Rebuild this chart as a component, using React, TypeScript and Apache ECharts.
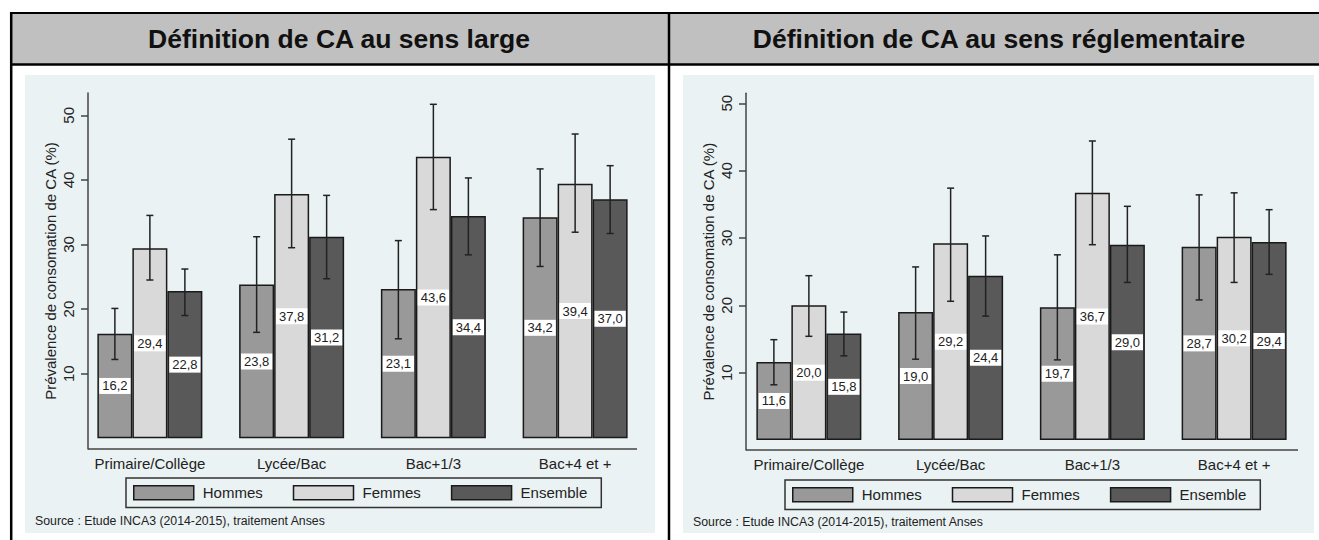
import React, { useEffect, useRef } from "react";
import * as echarts from "echarts";

const categories = ["Primaire/Collège", "Lycée/Bac", "Bac+1/3", "Bac+4 et +"];
const seriesNames = ["Hommes", "Femmes", "Ensemble"];
const yTicks = [10, 20, 30, 40, 50];

// Panel 1 : définition large
const largeHommes = [16.2, 23.8, 23.1, 34.2];
const largeHommesLow = [12.2, 16.4, 15.4, 26.6];
const largeHommesHigh = [20.1, 31.2, 30.6, 41.7];
const largeFemmes = [29.4, 37.8, 43.6, 39.4];
const largeFemmesLow = [24.5, 29.5, 35.4, 31.9];
const largeFemmesHigh = [34.5, 46.3, 51.7, 47.1];
const largeEnsemble = [22.8, 31.2, 34.4, 37.0];
const largeEnsembleLow = [19.0, 24.7, 28.4, 31.7];
const largeEnsembleHigh = [26.2, 37.6, 40.3, 42.2];

// Panel 2 : définition réglementaire
const reglHommes = [11.6, 19.0, 19.7, 28.7];
const reglHommesLow = [8.2, 12.0, 11.9, 20.8];
const reglHommesHigh = [14.9, 25.7, 27.5, 36.4];
const reglFemmes = [20.0, 29.2, 36.7, 30.2];
const reglFemmesLow = [15.4, 20.6, 29.0, 23.4];
const reglFemmesHigh = [24.4, 37.4, 44.4, 36.7];
const reglEnsemble = [15.8, 24.4, 29.0, 29.4];
const reglEnsembleLow = [12.5, 18.4, 23.4, 24.6];
const reglEnsembleHigh = [19.0, 30.3, 34.7, 34.2];

const titles = ["Définition de CA au sens large", "Définition de CA au sens réglementaire"];
const yName = "Prévalence de consomation de CA (%)";
const sourceText = "Source : Etude INCA3 (2014-2015), traitement Anses";

const FONT = "'Liberation Sans', Arial, Helvetica, sans-serif";
const barColors = ["#999999", "#d9d9d9", "#595959"];
const BAR_W = 35;

export default function App() {
  const ref = useRef<HTMLDivElement>(null);

  useEffect(() => {
    if (!ref.current) return;
    const chart = echarts.init(ref.current, null, { renderer: "svg" });

    const panels = [
      {
        vals: [largeHommes, largeFemmes, largeEnsemble],
        lows: [largeHommesLow, largeFemmesLow, largeEnsembleLow],
        highs: [largeHommesHigh, largeFemmesHigh, largeEnsembleHigh],
      },
      {
        vals: [reglHommes, reglFemmes, reglEnsemble],
        lows: [reglHommesLow, reglFemmesLow, reglEnsembleLow],
        highs: [reglHommesHigh, reglFemmesHigh, reglEnsembleHigh],
      },
    ];

    const series: any[] = [];
    panels.forEach((p, pi) => {
      seriesNames.forEach((name, k) => {
        series.push({
          type: "bar",
          name,
          xAxisIndex: pi,
          yAxisIndex: pi,
          data: p.vals[k],
          barWidth: BAR_W,
          barGap: "0%",
          itemStyle: { color: barColors[k], borderColor: "#1a1a1a", borderWidth: 1.5 },
          label: {
            show: true,
            position: "inside",
            formatter: (d: any) => Number(d.value).toFixed(1).replace(".", ","),
            backgroundColor: "#ffffff",
            padding: [2, 3, 1, 3],
            fontSize: 13,
            fontFamily: FONT,
            color: "#222",
          },
          z: 2,
        });
      });
      seriesNames.forEach((name, k) => {
        const off = (k - 1) * BAR_W;
        series.push({
          type: "custom",
          xAxisIndex: pi,
          yAxisIndex: pi,
          silent: true,
          z: 5,
          data: p.lows[k].map((lo, i) => [i, lo, p.highs[k][i]]),
          encode: { x: 0, y: [1, 2] },
          renderItem: (params: any, api: any) => {
            const lo = api.coord([api.value(0), api.value(1)]);
            const hi = api.coord([api.value(0), api.value(2)]);
            const cx = lo[0] + off;
            const cap = 3.5;
            const st = { stroke: "#222", lineWidth: 1.5 };
            return {
              type: "group",
              children: [
                { type: "line", shape: { x1: cx, y1: hi[1], x2: cx, y2: lo[1] }, style: st },
                { type: "line", shape: { x1: cx - cap, y1: hi[1], x2: cx + cap, y2: hi[1] }, style: st },
                { type: "line", shape: { x1: cx - cap, y1: lo[1], x2: cx + cap, y2: lo[1] }, style: st },
              ],
            };
          },
        });
      });
    });

    const axisCol = "#444";
    const mkX = (gi: number) => ({
      gridIndex: gi,
      type: "category",
      data: categories,
      axisLine: { show: false },
      axisTick: { show: false },
      axisLabel: { interval: 0, margin: 7, fontSize: 15, color: "#222", fontFamily: FONT },
    });
    const mkY = (gi: number, min: number, max: number, offset: number) => ({
      gridIndex: gi,
      type: "value",
      min,
      max,
      offset,
      axisLine: { show: true, lineStyle: { color: axisCol, width: 1.5 } },
      axisTick: { show: true, length: 7, customValues: yTicks, lineStyle: { color: axisCol, width: 1.5 } },
      axisLabel: { customValues: yTicks, rotate: 90, margin: 12, fontSize: 15, color: "#222", fontFamily: FONT },
      splitLine: { show: false },
      name: yName,
      nameLocation: "middle",
      nameRotate: 90,
      nameGap: 30,
      nameTextStyle: { fontSize: 15, color: "#222", fontFamily: FONT },
    });

    const mkLegend = (left: number, top: number) => ({
      left,
      top,
      orient: "horizontal",
      data: seriesNames,
      icon: "rect",
      itemWidth: 60,
      itemHeight: 14,
      itemGap: 30,
      padding: [7, 14, 7, 7],
      borderColor: "#333",
      borderWidth: 1.5,
      selectedMode: false,
      itemStyle: { borderColor: "#1a1a1a", borderWidth: 1.5 },
      textStyle: { fontSize: 15, color: "#222", fontFamily: FONT, padding: [0, 0, 0, 4] },
    });

    const panelBg = "#eaf2f3";
    const graphic: any[] = [
      { type: "rect", shape: { x: 25, y: 75, width: 630, height: 458 }, style: { fill: panelBg }, z: -10 },
      { type: "rect", shape: { x: 683, y: 75, width: 631, height: 458 }, style: { fill: panelBg }, z: -10 },
      { type: "rect", shape: { x: 11, y: 13, width: 1308, height: 51 }, style: { fill: "#c0c0c0" }, z: -10 },
      { type: "line", shape: { x1: 10, y1: 13, x2: 1319, y2: 13 }, style: { stroke: "#000", lineWidth: 2 } },
      { type: "line", shape: { x1: 10, y1: 64.5, x2: 1319, y2: 64.5 }, style: { stroke: "#000", lineWidth: 2.5 } },
      { type: "line", shape: { x1: 11.2, y1: 12, x2: 11.2, y2: 540 }, style: { stroke: "#000", lineWidth: 2.5 } },
      { type: "line", shape: { x1: 669, y1: 12, x2: 669, y2: 540 }, style: { stroke: "#000", lineWidth: 2.5 } },
      // x axis lines
      { type: "line", shape: { x1: 88, y1: 449, x2: 637, y2: 449 }, style: { stroke: axisCol, lineWidth: 1.5 } },
      { type: "line", shape: { x1: 746, y1: 450, x2: 1298, y2: 450 }, style: { stroke: axisCol, lineWidth: 1.5 } },
      {
        type: "text",
        x: 339,
        y: 39,
        style: { text: titles[0], font: `bold 26.5px ${FONT}`, fill: "#111", align: "center", verticalAlign: "middle" },
      },
      {
        type: "text",
        x: 999,
        y: 39,
        style: { text: titles[1], font: `bold 26.5px ${FONT}`, fill: "#111", align: "center", verticalAlign: "middle" },
      },
      {
        type: "text",
        x: 35,
        y: 521,
        style: { text: sourceText, font: `12.3px ${FONT}`, fill: "#222", align: "left", verticalAlign: "middle" },
      },
      {
        type: "text",
        x: 693,
        y: 522,
        style: { text: sourceText, font: `12.3px ${FONT}`, fill: "#222", align: "left", verticalAlign: "middle" },
      },
    ];

    chart.setOption({
      animation: false,
      backgroundColor: "#ffffff",
      textStyle: { fontFamily: FONT },
      grid: [
        { left: 79, top: 93, width: 567, height: 356 },
        { left: 738, top: 93.3, width: 567, height: 356.7 },
      ],
      xAxis: [mkX(0), mkX(1)],
      yAxis: [mkY(0, -1.66, 53.45, -9), mkY(1, -1.48, 51.48, -8)],
      legend: [mkLegend(126, 478), mkLegend(785, 480)],
      graphic,
      series,
    });

    return () => chart.dispose();
  }, []);

  return (
    <div
      ref={ref}
      style={{ position: "absolute", left: 0, top: 0, width: 1319, height: 540 }}
    />
  );
}
